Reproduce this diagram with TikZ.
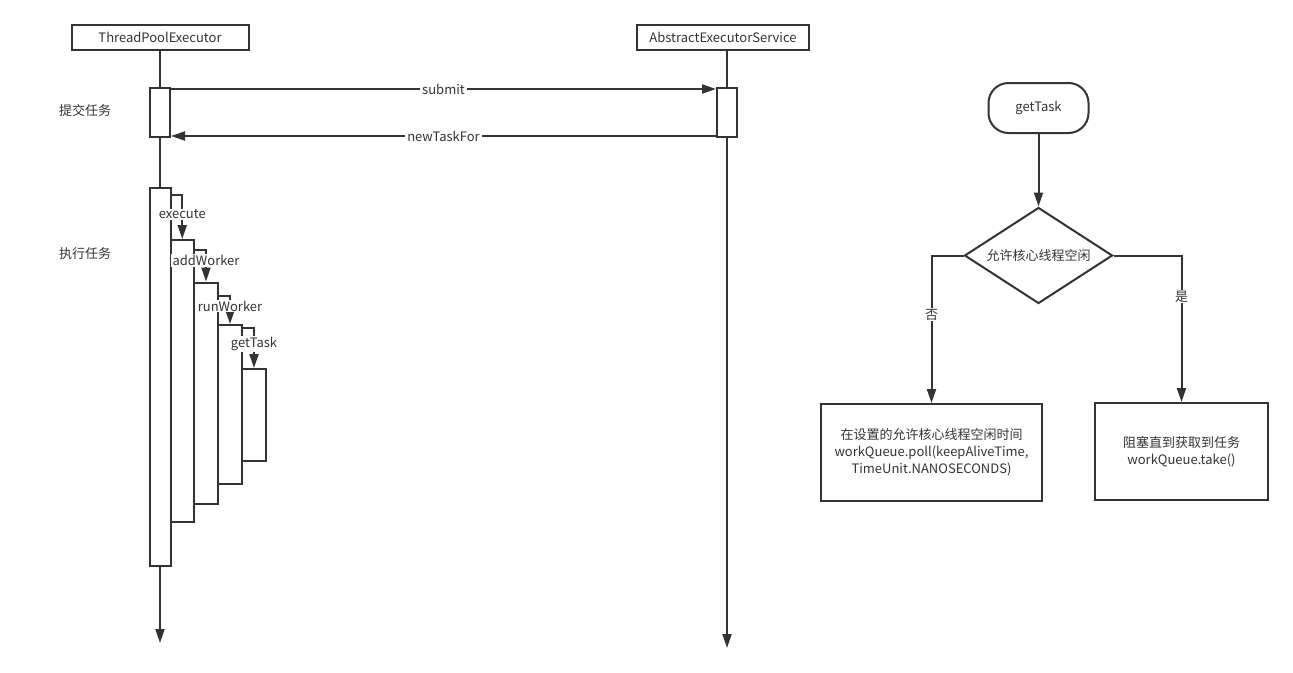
\documentclass[tikz,border=0pt]{standalone}
\usepackage{fontspec}
\setmainfont{Noto Sans CJK SC}
\usepackage{tikz}
\usetikzlibrary{arrows.meta,positioning,calc,shapes.geometric}
\definecolor{ink}{HTML}{333333}

\begin{document}
\begin{tikzpicture}[
  x=1pt, y=-1pt,
  >={Triangle[length=14pt,width=9pt]},
  every node/.style={font=\fontsize{13}{17}\selectfont, text=ink},
  head/.style={draw=ink, line width=2pt, minimum height=25pt, inner sep=0pt},
  act/.style={draw=ink, line width=2pt, fill=white, inner sep=0pt},
  box/.style={draw=ink, line width=2pt, minimum height=97pt, align=center},
  line/.style={draw=ink, line width=2pt},
  arr/.style={->, draw=ink, line width=2pt},
  lbl/.style={fill=white, inner xsep=2pt, inner ysep=1pt},
]
\useasboundingbox (0,0) rectangle (1293,672);

%------------------- Sequence: heads and activations -------------------
\node (tpeHead) [head, minimum width=177pt] at (160,37) {ThreadPoolExecutor};
\node (aesHead) [head, minimum width=172pt] at (723,37) {AbstractExecutorService};

\node (tpeAct) [act, minimum width=20pt, minimum height=49pt] at (160,112.5) {};
\node (aesAct) [act, minimum width=20pt, minimum height=49pt] at (727,112.5) {};

\node (mainAct) [act, minimum width=21pt, minimum height=378.5pt] at (160,376.75) {};
\node (execAct) [act, minimum width=23.5pt, minimum height=281.5pt] at (182.25,380.75) {};
\node (addAct) [act, minimum width=24pt, minimum height=221.5pt] at (206,393.25) {};
\node (runAct) [act, minimum width=24pt, minimum height=159pt] at (230,404.5) {};
\node (getAct) [act, minimum width=24pt, minimum height=92pt] at (254,415) {};

\node (submitLbl) at (85,111) {提交任务};
\node (execLbl) at (85,254) {执行任务};

% lifelines
\coordinate (tpeEnd) at (160,643);
\coordinate (aesEnd) at (727,648);
\draw[line] (tpeHead.south) -- (tpeAct.north);
\draw[line] (tpeAct.south) -- (mainAct.north);
\draw[arr] (mainAct.south) -- (tpeEnd);
\draw[line] (aesHead.south -| aesAct.north) -- (aesAct.north);
\draw[arr] (aesAct.south) -- (aesEnd);

%------------------- Messages -------------------
\draw[arr] ($(tpeAct.north east)+(0,2)$) -- ($(aesAct.north west)+(0,2)$) node[lbl, midway] {submit};
\draw[arr] ($(aesAct.south west)+(0,-2)$) -- ($(tpeAct.south east)+(0,-2)$) node[lbl, midway] {newTaskFor};

% self calls
\draw[arr] ($(mainAct.north east)+(0,8.5)$) -| (execAct.north) node[lbl, pos=0.72] {execute};
\draw[arr] ($(execAct.north east)+(0,11)$) -| (addAct.north) node[lbl, pos=0.67] {addWorker};
\draw[arr] ($(addAct.north east)+(0,14.5)$) -| (runAct.north) node[lbl, pos=0.68] {runWorker};
\draw[arr] ($(runAct.north east)+(0,3.5)$) -| (getAct.north) node[lbl, pos=0.70] {getTask};

%------------------- Flowchart: getTask -------------------
\node (start) [draw=ink, line width=2pt, rounded corners=20pt, minimum width=100pt, minimum height=50pt] at (1038.5,108) {getTask};
\node (check) [diamond, draw=ink, line width=2pt, aspect=1.5, minimum width=148pt, minimum height=96pt, inner sep=0pt] at (1038.5,255.5) {允许核心线程空闲};
\node (pollBox) [box, minimum width=221pt] at (931.5,452.5) {在设置的允许核心线程空闲时间\\workQueue.poll(keepAliveTime,\\TimeUnit.NANOSECONDS)};
\node (takeBox) [box, minimum width=173pt] at (1181.5,451.5) {阻塞直到获取到任务\\workQueue.take()};

\draw[arr] (start.south) -- (check.north);
\draw[arr] (check.west) -| (pollBox.north) node[lbl, pos=0.70] {否};
\draw[arr] (check.east) -| (takeBox.north) node[lbl, pos=0.64] {是};

\end{tikzpicture}
\end{document}
